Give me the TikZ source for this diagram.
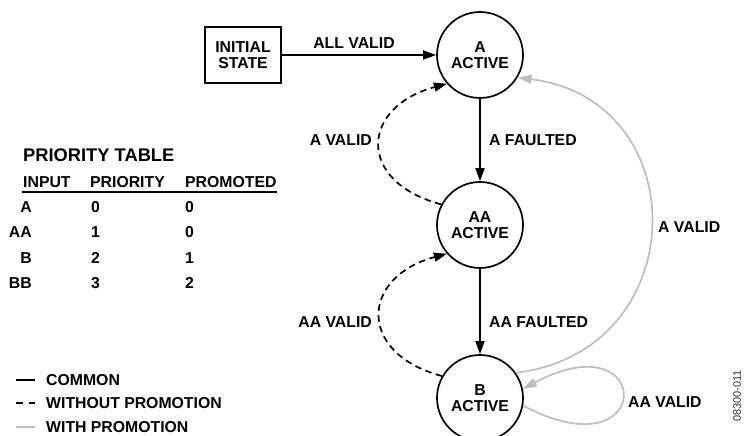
\documentclass[tikz,border=0pt]{standalone}
\usepackage{fontspec}
\setmainfont{Liberation Sans}
\usetikzlibrary{arrows.meta}
\definecolor{promo}{RGB}{188,190,192}

\begin{document}
\begin{tikzpicture}[scale=1.000000,x=1pt,y=1pt,
  lbl/.style={font=\fontsize{15.8}{17}\bfseries\selectfont, inner sep=0pt},
  ttl/.style={font=\fontsize{18.3}{20}\bfseries\selectfont, inner sep=0pt},
  state/.style={draw, circle, line width=1.7pt, minimum size=86pt, inner sep=0pt, align=center, font=\fontsize{15.8}{16.5}\bfseries\selectfont},
  common/.style={line width=1.7pt, -{Triangle[length=13pt,width=9pt]}},
  noprom/.style={common, dash pattern=on 6.5pt off 4.5pt},
  withprom/.style={line width=1.7pt, draw=promo, -{Triangle[length=14pt,width=9pt,fill=promo]}}]
\useasboundingbox (0.000000, 0.000000) rectangle (748.000000, 436.000000);
% Drawing states
\node[draw, line width=1.7pt, minimum width=76pt, minimum height=56pt, inner sep=0pt, align=center, font=\fontsize{15.8}{16.5}\bfseries\selectfont] (init) at (243.000000, 381.000000) {INITIAL\\STATE};
\node[state] (A) at (480.000000, 381.000000) {A\\ACTIVE};
\node[state] (AA) at (480.000000, 211.000000) {AA\\ACTIVE};
\node[state] (B) at (480.000000, 38.000000) {B\\ACTIVE};
% Done with states; drawing transitions
\draw[common] (init) -- (A);
\node[lbl] (allvalid) at (354.000000, 393.000000) {ALL VALID};
\draw[common] (A) -- (AA);
\node[lbl, anchor=west] (afault) at (489.000000, 296.000000) {A FAULTED};
\draw[common] (AA) -- (B);
\node[lbl, anchor=west] (aafault) at (489.000000, 114.000000) {AA FAULTED};
% without promotion
\draw[noprom] (AA.152) .. controls +(165:89) and +(195:89) .. (A.221);
\node[lbl, anchor=east] (avalidl) at (372.000000, 296.000000) {A VALID};
\draw[noprom] (B.150) .. controls +(165:89) and +(195:89) .. (AA.221);
\node[lbl, anchor=east] (aavalidl) at (372.000000, 114.000000) {AA VALID};
% with promotion
\draw[withprom] (B.35) .. controls +(7:180) and +(-7:180) .. (A.-31);
\node[lbl, anchor=west] (avalidr) at (658.000000, 209.000000) {A VALID};
\draw[withprom] (B.-10) .. controls +(-28:150) and +(28:150) .. (B.12);
\node[lbl, anchor=west] (aavalidr) at (628.000000, 34.000000) {AA VALID};
% Done with transitions; drawing priority table
\node[ttl, anchor=west] (title) at (23.000000, 281.000000) {PRIORITY TABLE};
\node[lbl, anchor=west] (hinput) at (23.000000, 254.000000) {INPUT};
\node[lbl, anchor=west] (hprio) at (90.000000, 254.000000) {PRIORITY};
\node[lbl, anchor=west] (hprom) at (185.000000, 254.000000) {PROMOTED};
\draw[line width=1.7pt] (22.000000, 244.000000) -- (277.000000, 244.000000);
\foreach \inp/\prio/\prom [count=\i] in {A/0/0, AA/1/0, B/2/1, BB/3/2} {
  \node[lbl, anchor=east] (inp\i) at (32.000000, 254.000000-25.200000*\i) {\inp};
  \node[lbl, anchor=west] (prio\i) at (91.000000, 254.000000-25.200000*\i) {\prio};
  \node[lbl, anchor=west] (prom\i) at (185.000000, 254.000000-25.200000*\i) {\prom};
}
% Done with table; drawing legend
\draw[line width=1.7pt] (16.000000, 56.000000) -- (35.000000, 56.000000);
\node[lbl, anchor=west] (lcommon) at (46.000000, 56.000000) {COMMON};
\draw[line width=1.7pt, dash pattern=on 6.5pt off 6pt] (16.000000, 33.000000) -- (35.000000, 33.000000);
\node[lbl, anchor=west] (lnoprom) at (46.000000, 33.000000) {WITHOUT PROMOTION};
\draw[line width=1.7pt, draw=promo] (16.000000, 9.000000) -- (35.000000, 9.000000);
\node[lbl, anchor=west] (lprom) at (46.000000, 9.000000) {WITH PROMOTION};
% figure number
\node[rotate=90, inner sep=0pt, text=black!80, font=\fontsize{11}{12}\selectfont] (fignum) at (737.000000, 40.000000) {08300-011};
\end{tikzpicture}
\end{document}
